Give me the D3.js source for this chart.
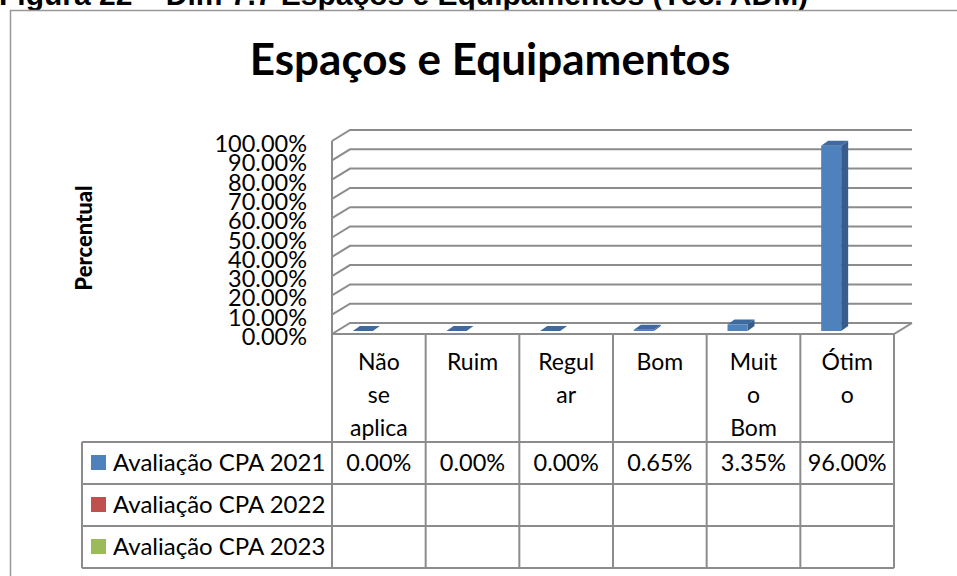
<!DOCTYPE html>
<head>
<meta charset="utf-8">
<style>
body, html {
  margin: 0;
  background: #fff;
  font-family: Lato, "DejaVu Sans", sans-serif;
}
.grid {
  fill: none;
  stroke: #8c8c8c;
  stroke-width: 2;
}
.cell {
  stroke: #8c8c8c;
  stroke-width: 2;
}
</style>
<script src="https://d3js.org/d3.v7.min.js"></script>
</head>
<body>
<div id="chart"></div>
<script>

// data
var categories = ["Não se aplica", "Ruim", "Regular", "Bom", "Muito Bom", "Ótimo"];
var categoryLines = [["Não", "se", "aplica"], ["Ruim"], ["Regul", "ar"], ["Bom"], ["Muit", "o", "Bom"], ["Ótim", "o"]];
var seriesNames = ["Avaliação CPA 2021", "Avaliação CPA 2022", "Avaliação CPA 2023"];
var seriesColors = ["#4f81bd", "#c0504d", "#9bbb59"];
var cpa2021 = [0.0, 0.0, 0.0, 0.0065, 0.0335, 0.96];
var cpa2022 = [];
var cpa2023 = [];
var yTicks = [0, 0.1, 0.2, 0.3, 0.4, 0.5, 0.6, 0.7, 0.8, 0.9, 1.0];

var series = [cpa2021, cpa2022, cpa2023];

var width = 957,
    height = 576;

// back wall and the depth offset of the 3d box
var depth = {x: -18, y: 11};
var bar = {w: 20, dx: 7, dy: -5, base: 331, off: -26};

var x = d3.scaleBand()
    .domain(categories)
    .range([332, 894]);

var y = d3.scaleLinear()
    .domain([0, 1])
    .range([323, 130]);

var fmt = d3.format(".2%");

var svg = d3.select("#chart").append("svg")
    .attr("width", width)
    .attr("height", height);

// caption above the frame, mostly cut off
svg.append("text")
    .attr("x", -1)
    .attr("y", 5)
    .style("font-family", "'Liberation Sans', Arial, sans-serif")
    .style("font-size", "30px")
    .style("font-weight", "bold")
    .text("Figura 22 – Dim 7.7 Espaços e Equipamentos (Téc. ADM)");

// chart frame
svg.append("rect")
    .attr("x", 10.5)
    .attr("y", 10.5)
    .attr("width", 1000)
    .attr("height", 700)
    .attr("fill", "#fff")
    .attr("stroke", "#999")
    .attr("stroke-width", 1.5);

svg.append("text")
    .attr("x", 490)
    .attr("y", 75)
    .attr("text-anchor", "middle")
    .style("font-size", "44px")
    .style("font-weight", "bold")
    .text("Espaços e Equipamentos");

svg.append("text")
    .attr("transform", "translate(92,238) rotate(-90)")
    .attr("text-anchor", "middle")
    .style("font-size", "22px")
    .style("font-weight", "900")
    .text("Percentual");

//--------------------------------------
// walls and gridlines
var x0 = x.range()[0], x1 = x.range()[1];

svg.selectAll("path.gridline")
  .data(yTicks)
  .enter().append("path")
    .attr("class", "grid")
    .attr("d", function(t) {
      return "M" + x0 + "," + (y(t) + depth.y) +
             "L" + (x0 - depth.x) + "," + y(t) +
             "L" + (x1 - depth.x) + "," + y(t);
    });

// left front edge
svg.append("path")
    .attr("class", "grid")
    .attr("d", "M" + x0 + "," + (y(1) + depth.y) + "L" + x0 + "," + (y(0) + depth.y));

// floor front + right edge
svg.append("path")
    .attr("class", "grid")
    .attr("d", "M" + x0 + "," + (y(0) + depth.y) +
               "L" + x1 + "," + (y(0) + depth.y) +
               "L" + (x1 - depth.x) + "," + y(0));

svg.selectAll("text.ytick")
  .data(yTicks)
  .enter().append("text")
    .attr("class", "ytick")
    .attr("x", 307)
    .attr("y", function(t) { return y(t) + depth.y + 11; })
    .attr("text-anchor", "end")
    .style("font-size", "23.5px")
    .text(function(t) { return fmt(t); });

//--------------------------------------
// 3d columns
var hScale = function(v) { return y(0) - y(v); };

var bars = svg.selectAll("g.bar")
  .data(cpa2021)
  .enter().append("g")
    .attr("class", "bar")
    .attr("transform", function(v, i) {
      return "translate(" + (x(categories[i]) + x.bandwidth() / 2 + bar.off) + "," + bar.base + ")";
    });

bars.append("path")   // side
    .attr("fill", "#385d8a")
    .attr("d", function(v) {
      var h = hScale(v);
      return "M" + bar.w + ",0L" + (bar.w + bar.dx) + "," + bar.dy +
             "L" + (bar.w + bar.dx) + "," + (bar.dy - h) + "L" + bar.w + "," + (-h) + "Z";
    });

bars.append("rect")   // front
    .attr("fill", "#4f81bd")
    .attr("x", 0)
    .attr("y", function(v) { return -hScale(v); })
    .attr("width", bar.w)
    .attr("height", function(v) { return hScale(v); });

bars.append("path")   // top
    .attr("fill", "#3e6aa0")
    .attr("d", function(v) {
      var h = hScale(v);
      return "M0," + (-h) + "L" + bar.dx + "," + (bar.dy - h) +
             "L" + (bar.w + bar.dx) + "," + (bar.dy - h) + "L" + bar.w + "," + (-h) + "Z";
    });

//--------------------------------------
// data table
var tableTop = y(0) + depth.y,
    headerBottom = 442,
    rowH = 42,
    legendLeft = 82;

var rowLines = d3.range(series.length + 1).map(function(i) { return headerBottom + i * rowH; });
var tableBottom = rowLines[rowLines.length - 1];
var colLines = categories.map(function(c) { return x(c); }).concat([x1]);

svg.selectAll("line.hrow")
  .data(rowLines)
  .enter().append("line")
    .attr("class", "cell")
    .attr("x1", legendLeft).attr("x2", x1)
    .attr("y1", function(d) { return d; })
    .attr("y2", function(d) { return d; });

svg.selectAll("line.vcol")
  .data(colLines)
  .enter().append("line")
    .attr("class", "cell")
    .attr("x1", function(d) { return d; })
    .attr("x2", function(d) { return d; })
    .attr("y1", tableTop)
    .attr("y2", tableBottom);

svg.append("line")
    .attr("class", "cell")
    .attr("x1", legendLeft).attr("x2", legendLeft)
    .attr("y1", headerBottom).attr("y2", tableBottom);

// column headers
svg.selectAll("text.cat")
  .data(categories)
  .enter().append("text")
    .attr("class", "cat")
    .attr("text-anchor", "middle")
    .style("font-size", "23px")
    .each(function(c, i) {
      d3.select(this).selectAll("tspan")
        .data(categoryLines[i])
        .enter().append("tspan")
          .attr("x", x(c) + x.bandwidth() / 2)
          .attr("y", function(s, j) { return 370 + j * 33; })
          .text(function(s) { return s; });
    });

// legend keys
var rows = svg.selectAll("g.row")
  .data(seriesNames)
  .enter().append("g")
    .attr("class", "row")
    .attr("transform", function(s, i) { return "translate(0," + rowLines[i] + ")"; });

rows.append("rect")
    .attr("x", 91)
    .attr("y", 13)
    .attr("width", 15)
    .attr("height", 15)
    .attr("fill", function(s, i) { return seriesColors[i]; });

rows.append("text")
    .attr("x", 113)
    .attr("y", 29)
    .style("font-size", "24px")
    .text(function(s) { return s; });

rows.each(function(s, i) {
  d3.select(this).selectAll("text.val")
    .data(series[i])
    .enter().append("text")
      .attr("class", "val")
      .attr("x", function(v, j) { return x(categories[j]) + x.bandwidth() / 2; })
      .attr("y", 29)
      .attr("text-anchor", "middle")
      .style("font-size", "23.5px")
      .text(function(v) { return fmt(v); });
});

</script>
</body>
